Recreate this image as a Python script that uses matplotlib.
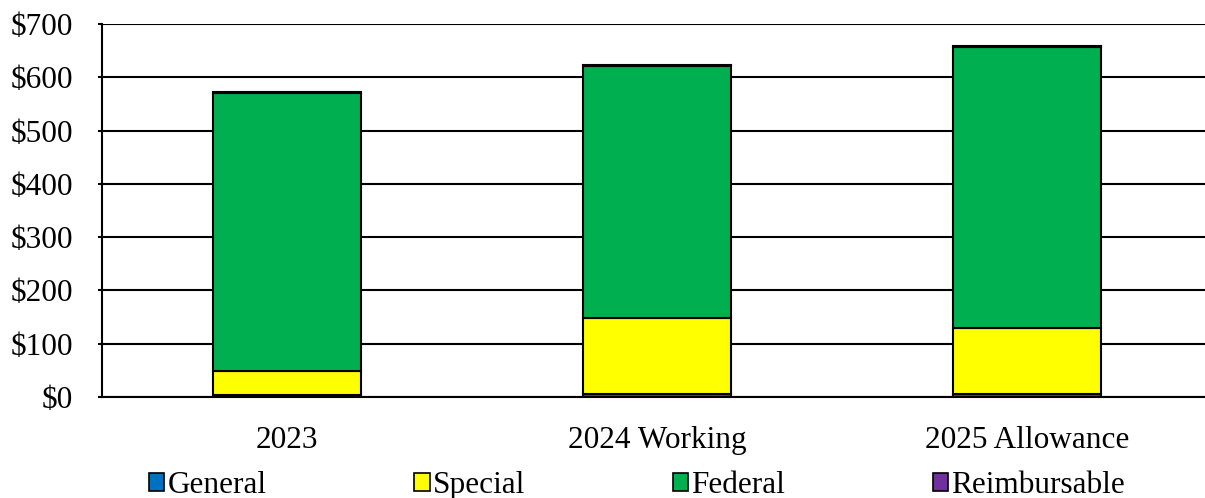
import matplotlib.pyplot as plt
from matplotlib.patches import Patch
import numpy as np

categories = ["2023", "2024 Working", "2025 Allowance"]
general = [4, 5, 5]
special = [44, 143, 124]
federal = [523, 474, 528]
reimbursable = [1, 1, 1]

series = [("General", general, "#0070C0"),
          ("Special", special, "#FFFF00"),
          ("Federal", federal, "#00B050"),
          ("Reimbursable", reimbursable, "#7030A0")]

plt.rcParams["font.family"] = ["Liberation Serif", "DejaVu Serif"]
fs = 22.5

fig = plt.figure(figsize=(12.05, 4.98), dpi=100)
ax = fig.add_axes([0.0846, 0.2028, 0.921, 0.749])

x = np.arange(len(categories))
bottom = np.zeros(len(categories))
for name, vals, color in series:
    ax.bar(x, vals, width=0.4, bottom=bottom, color=color,
           edgecolor="black", linewidth=1.5, zorder=3)
    bottom += np.array(vals)

ax.set_xlim(-0.5, len(categories) - 0.5)
ax.set_ylim(0, 700)
ax.set_yticks(range(0, 701, 100))
ax.set_yticklabels([f"${v}" for v in range(0, 701, 100)], fontsize=fs)
ax.set_xticks(x)
ax.set_xticklabels(categories, fontsize=fs)
ax.tick_params(axis="x", length=0, pad=21)
ax.tick_params(axis="y", length=3, width=1.5, pad=18)
ax.grid(axis="y", color="black", linewidth=1.5, zorder=0)
for s in ["top", "right"]:
    ax.spines[s].set_visible(False)
for s in ["left", "bottom"]:
    ax.spines[s].set_linewidth(1.5)
    ax.spines[s].set_zorder(4)

handles = [Patch(facecolor=c, edgecolor="black", linewidth=1.2, label=n)
           for n, _, c in series]
fig.legend(handles=handles, loc="center", bbox_to_anchor=(0.5285, 0.025),
           ncol=4, frameon=False, fontsize=fs, handlelength=0.5,
           handleheight=0.5, handletextpad=0.1, columnspacing=4.72,
           borderpad=0, borderaxespad=0)

fig.savefig("out.png", dpi=100)
